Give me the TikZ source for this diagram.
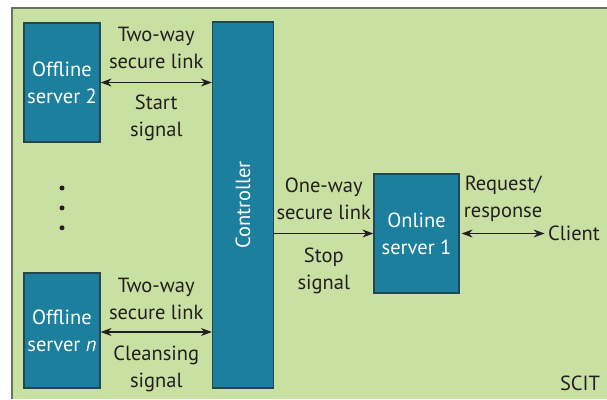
\documentclass[tikz,border=0pt]{standalone}
\usepackage{fontspec}
\setmainfont{PT Sans}
\usetikzlibrary{positioning,arrows.meta}
\definecolor{sgreen}{RGB}{201,224,163}
\definecolor{steal}{RGB}{27,127,157}
\definecolor{sedge}{RGB}{35,70,80}
\definecolor{sframe}{RGB}{105,115,100}
\definecolor{stext}{RGB}{35,31,32}

\begin{document}
\begin{tikzpicture}[x=1pt, y=-1pt, every node/.style={font=\fontsize{20.5}{27}\selectfont, text=stext, align=center}]
    \tikzset{
        srvnode/.style = {rectangle, line width=1.2pt, draw=sedge, fill=steal, text=white, inner sep=0pt},
        arrow/.style = {line width=1.1pt, draw=stext, -{Stealth[length=11pt, width=8pt]}},
        biarrow/.style = {line width=1.1pt, draw=stext, {Stealth[length=11pt, width=8pt]}-{Stealth[length=11pt, width=8pt]}},
        dotnode/.style = {circle, fill=stext, inner sep=0pt, minimum size=5pt},
    }
    \useasboundingbox (0,0) rectangle (607,399);
    % frame
    \fill[sgreen] (12,8) rectangle (607,399);
    \draw[sframe, line width=1.6pt] (12,399) -- (12,8) -- (607,8);

    \node (off2) [srvnode, minimum width=76pt, minimum height=119pt] at (62,82.5) {Offline\\server 2};
    \node (offn) [srvnode, minimum width=76pt, minimum height=115pt] at (62,330.5) {Offline\\server \textit{n}};
    \node (ctrl) [srvnode, minimum width=61pt, minimum height=366pt] at (243,205) {};
    \node (ctrl_txt) [rotate=90, text=white] at (ctrl.center) {Controller};
    \node (online) [srvnode, minimum width=85pt, minimum height=119pt] at (416.5,233.5) {Online\\server 1};
    \node (client) [right=9pt of online.east, xshift=76pt, anchor=west] {Client};

    \node (dot1) [dotnode] at (62,188) {};
    \node (dot2) [dotnode, below=14.5pt of dot1] {};
    \node (dot3) [dotnode, below=14.5pt of dot2] {};

    \draw [biarrow] (off2.east) -- (off2.east -| ctrl.west)
        node (lnk1) [midway, yshift=34.5pt] {Two-way\\secure link}
        node (sig1) [midway, yshift=-35.5pt] {Start\\signal};
    \draw [biarrow] (offn.east |- 0,332) -- (ctrl.west |- 0,332)
        node (lnk2) [midway, yshift=33.5pt] {Two-way\\secure link}
        node (sig2) [midway, yshift=-36.5pt] {Cleansing\\signal};
    \draw [arrow] (ctrl.east |- online.west) -- (online.west)
        node (lnk3) [midway, yshift=34.5pt] {One-way\\secure link}
        node (sig3) [midway, yshift=-37pt] {Stop\\signal};
    \draw [biarrow] ([xshift=2pt]online.east) -- (client.west)
        node (req) [midway, yshift=34.5pt] {Request/\\response};

    \node (scit) at (580,383) {SCIT};
\end{tikzpicture}
\end{document}
